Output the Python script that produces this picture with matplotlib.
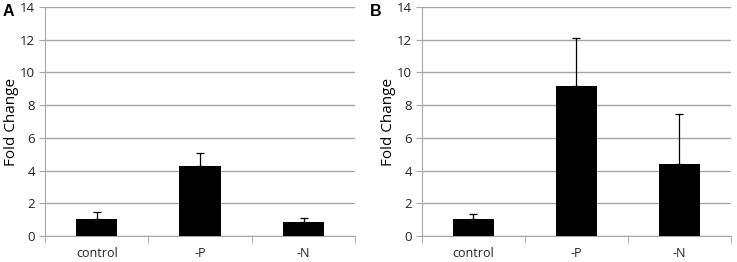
import matplotlib
matplotlib.use("Agg")
import matplotlib.pyplot as plt
import numpy as np

categories = ["control", "-P", "-N"]
values_a = [1.04, 4.29, 0.83]
errors_a = [0.45, 0.78, 0.25]
values_b = [1.04, 9.16, 4.38]
errors_b = [0.32, 2.95, 3.09]
yticks = [0, 2, 4, 6, 8, 10, 12, 14]

plt.rcParams['font.family'] = ['Open Sans', 'DejaVu Sans']

fig = plt.figure(figsize=(7.37, 2.62), dpi=100)
grid_c = "#a6a6a6"

def panel(rect, vals, errs, letter, letter_x):
    ax = fig.add_axes(rect)
    x = np.arange(len(categories))
    ax.bar(x, vals, width=0.4, color="black", zorder=3)
    ax.errorbar(x, vals, yerr=[np.zeros(len(vals)), errs], fmt="none",
                ecolor="black", elinewidth=0.9, capsize=3, capthick=0.9, zorder=4)
    ax.set_xlim(-0.5, len(categories) - 0.5)
    ax.set_ylim(0, 14)
    ax.set_yticks(yticks)
    ax.set_yticklabels([str(t) for t in yticks], fontsize=9.5, color="#222222")
    ax.yaxis.grid(True, color=grid_c, linewidth=1.0, zorder=0)
    ax.set_axisbelow(True)
    for s in ["top", "right"]:
        ax.spines[s].set_visible(False)
    ax.spines["left"].set_color(grid_c)
    ax.spines["bottom"].set_color(grid_c)
    ax.tick_params(axis="y", length=4, color=grid_c, pad=3)
    ax.set_xticks(x)
    ax.set_xticklabels(categories, fontsize=9, color="#222222")
    ax.tick_params(axis="x", length=0, pad=8)
    ax.set_xticks(np.arange(-0.5, len(categories), 1.0), minor=True)
    ax.tick_params(axis="x", which="minor", length=5, color=grid_c)
    ax.set_ylabel("Fold Change", fontsize=11, labelpad=1)
    fig.text(letter_x, 0.955, letter, fontsize=11.5, fontweight="bold",
             va="center", ha="left", family="Liberation Sans")
    return ax

panel([0.061, 0.099, 0.421, 0.874], values_a, errors_a, "A", 0.003)
panel([0.5726, 0.099, 0.419, 0.874], values_b, errors_b, "B", 0.502)

fig.savefig("out.png", dpi=100)
